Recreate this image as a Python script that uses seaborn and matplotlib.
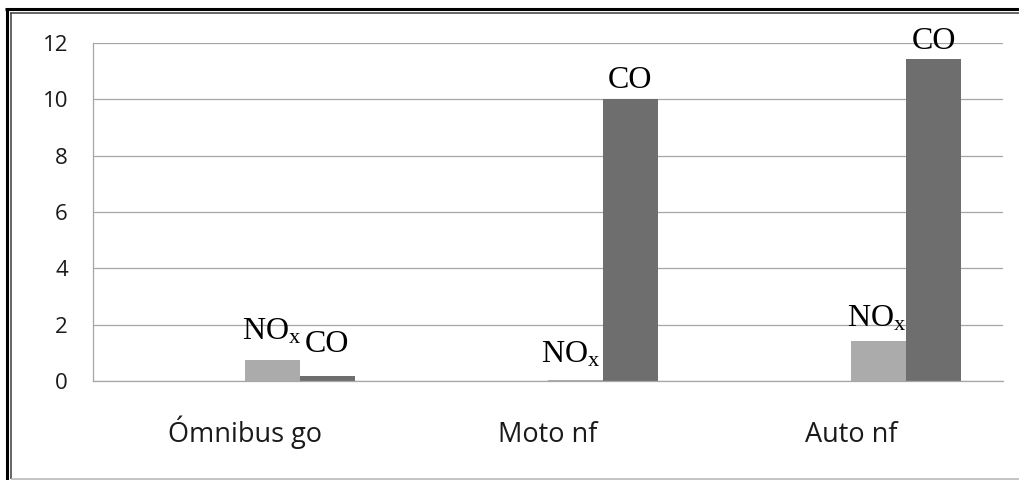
import matplotlib
matplotlib.use("Agg")
import matplotlib.pyplot as plt
from matplotlib.lines import Line2D
import pandas as pd
import seaborn as sns

# Emission factors per vehicle type
categories = ["Ómnibus go", "Moto nf", "Auto nf"]
nox = [0.74, 0.05, 1.43]
co = [0.18, 10.0, 11.42]

# Each cluster keeps two empty slots ahead of the NOx and CO bars
series_order = ["_slot1", "_slot2", "NOx", "CO"]
palette = {"_slot1": "#C8C8C8", "_slot2": "#909090", "NOx": "#ABABAB", "CO": "#6E6E6E"}

df = pd.DataFrame({
    "vehiculo": categories * 2,
    "serie": ["NOx"] * len(categories) + ["CO"] * len(categories),
    "valor": nox + co,
})

sns.set_theme(style="white")
plt.rcParams["font.family"] = ["Open Sans", "DejaVu Sans"]
plt.rcParams["mathtext.fontset"] = "custom"
plt.rcParams["mathtext.rm"] = "Liberation Serif"
plt.rcParams["mathtext.it"] = "Liberation Serif:italic"

W, H = 1020, 480
fig = plt.figure(figsize=(W / 100, H / 100), dpi=100)
ax = fig.add_axes([93 / W, 1 - 381 / H, 910 / W, 338 / H])

sns.barplot(data=df, x="vehiculo", y="valor", hue="serie", order=categories,
            hue_order=series_order, palette=palette, width=0.725,
            saturation=1, legend=False, ax=ax, linewidth=0, errorbar=None)

ax.set_xlim(-0.5, 2.5)
ax.set_ylim(0, 12)
ax.set_yticks(range(0, 13, 2))
ax.set_xlabel("")
ax.set_ylabel("")
ax.grid(axis="y", color="#A6A6A6", linewidth=0.9)
ax.grid(axis="x", visible=False)
ax.set_axisbelow(True)
for side in ["top", "right"]:
    ax.spines[side].set_visible(False)
for side in ["left", "bottom"]:
    ax.spines[side].set_color("#A6A6A6")
    ax.spines[side].set_linewidth(0.9)
ax.tick_params(axis="y", length=0, pad=18, labelsize=16, labelcolor="#1A1A1A")
ax.tick_params(axis="x", length=0, pad=44, labelsize=19.5, labelcolor="#1A1A1A")
for lab in ax.get_xticklabels():
    lab.set_verticalalignment("baseline")

# Series names written above each bar (baseline offset in pixels, small x nudge)
label_text = {"NOx": r"NO$_{\mathrm{x}}$", "CO": "CO"}
label_offsets = {"NOx": [(0, 21), (-5, 17), (-2, 14)],
                 "CO": [(0, 24), (0, 11), (0, 10)]}
filled = [c for c in ax.containers if len(c.patches) > 0]
for container, name in zip(filled, ["NOx", "CO"]):
    for bar, (dx, dy) in zip(container.patches, label_offsets[name]):
        xc = bar.get_x() + bar.get_width() / 2
        ax.annotate(label_text[name], xy=(xc, bar.get_height()),
                    xytext=(dx, dy), textcoords="offset pixels",
                    ha="center", va="baseline", fontsize=23,
                    family="Liberation Serif", color="black",
                    annotation_clip=False)

# Double frame around the chart
def fline(xs, ys, **kw):
    fig.add_artist(Line2D([x / W for x in xs], [1 - y / H for y in ys],
                          transform=fig.transFigure, **kw))

fline([7, 7], [8.5, 481], color="black", linewidth=2.2, solid_capstyle="butt")
fline([5.5, 1021], [8.5, 8.5], color="black", linewidth=2.2, solid_capstyle="butt")
fline([11, 11], [12.5, 479], color="#3C3C3C", linewidth=1.1, solid_capstyle="butt")
fline([10.5, 1021], [12.5, 12.5], color="#3C3C3C", linewidth=1.1, solid_capstyle="butt")
fline([11, 1021], [479, 479], color="#B4B4B4", linewidth=1.1, solid_capstyle="butt")

fig.savefig("out.png", dpi=100, facecolor="white")
